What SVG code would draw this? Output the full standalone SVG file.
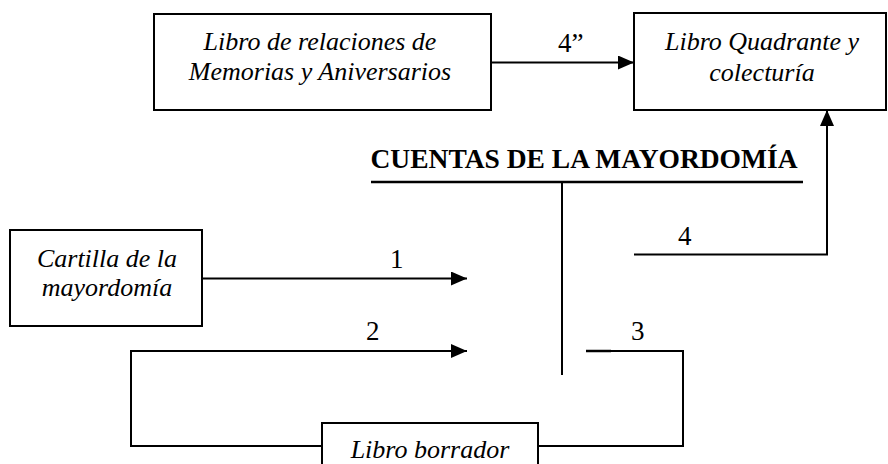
<svg xmlns="http://www.w3.org/2000/svg" width="888" height="464" viewBox="0 0 888 464">
<style>
.box{fill:#fff;stroke:#000;stroke-width:2}
.it{font-family:"Liberation Serif","Times New Roman",serif;font-style:italic;font-size:26px;fill:#000;text-anchor:middle}
.num{font-family:"Liberation Serif","Times New Roman",serif;font-size:27px;fill:#000}
.title{font-family:"Liberation Serif","Times New Roman",serif;font-weight:bold;font-size:27.5px;fill:#000;text-anchor:middle}
.ln{fill:none;stroke:#000;stroke-width:2}
</style>
<defs>
<marker id="ah" markerUnits="userSpaceOnUse" markerWidth="16" markerHeight="14" refX="16" refY="7" orient="auto">
<path d="M0,0 L16,7 L0,14 z" fill="#000"/>
</marker>
</defs>
<rect width="888" height="464" fill="#fff"/>
<g id="connectors">
<path class="ln" d="M491,62.5 H634" marker-end="url(#ah)"/>
<path class="ln" d="M634,254.5 H827 V110" marker-end="url(#ah)"/>
<path class="ln" d="M202,278.5 H467" marker-end="url(#ah)"/>
<path class="ln" d="M322,446 H131 V351 H467" marker-end="url(#ah)"/>
<path class="ln" d="M538,446 H683 V351 H611"/>
<path fill="none" stroke="#000" stroke-width="2.5" d="M586,351 H611"/>
<text class="num" x="558" y="52">4”</text>
<text class="num" x="678" y="245">4</text>
<text class="num" x="390" y="268">1</text>
<text class="num" x="366" y="340">2</text>
<text class="num" x="631" y="340">3</text>
</g>
<g id="cuentas">
<text class="title" x="584" y="168">CUENTAS DE LA MAYORDOMÍA</text>
<path fill="none" stroke="#000" stroke-width="2.5" d="M371,182 H803"/>
<path class="ln" d="M562,182 V375"/>
</g>
<g id="relaciones">
<rect class="box" x="154" y="14" width="337" height="96"/>
<text class="it" x="320" y="50">Libro de relaciones de</text>
<text class="it" x="320" y="80">Memorias y Aniversarios</text>
</g>
<g id="quadrante">
<rect class="box" x="634" y="13" width="252" height="97"/>
<text class="it" x="762" y="50">Libro Quadrante y</text>
<text class="it" x="762" y="81">colecturía</text>
</g>
<g id="cartilla">
<rect class="box" x="10" y="230" width="192" height="96"/>
<text class="it" x="107" y="267">Cartilla de la</text>
<text class="it" x="107" y="296">mayordomía</text>
</g>
<g id="borrador">
<rect class="box" x="322" y="423" width="216" height="50"/>
<text class="it" x="430" y="458">Libro borrador</text>
</g>
</svg>
